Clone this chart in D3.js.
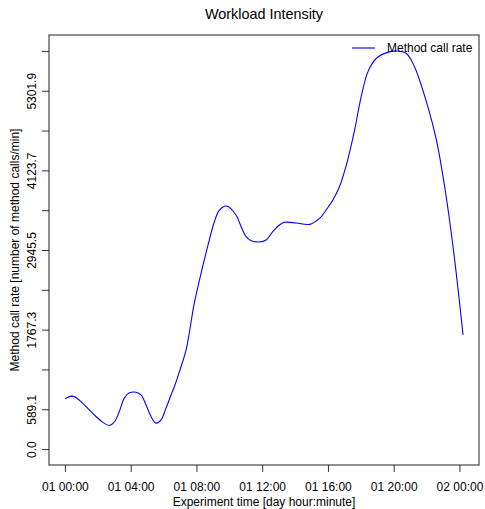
<!DOCTYPE html>
<html>
<head>
<meta charset="utf-8">
<script src="https://cdn.jsdelivr.net/npm/d3@7"></script>
<style>
  body { margin: 0; background: #fff; }
  text { font-family: "Liberation Sans", Arial, sans-serif; fill: #000; }
</style>
</head>
<body>
<svg id="chart"></svg>
<script>
// hours since 01 00:00 and method call rate (calls/min)
var hours = [0, 0.37, 0.67, 1.07, 1.48, 1.89, 2.29, 2.70, 3.0, 3.31, 3.61, 3.92, 4.32, 4.63, 4.93, 5.24, 5.54,
             5.85, 6.15, 6.46, 6.66, 7.0, 7.37, 7.87, 8.28, 8.68, 9.09, 9.4, 9.84, 10.41, 10.72, 11.02,
             11.33, 11.83, 12.24, 12.64, 13.05, 13.35, 14.07, 14.88, 15.49, 15.89, 16.3, 16.7, 17.2,
             17.62, 18.02, 18.43, 18.93, 19.54, 20.15, 20.77, 21.27, 22.08, 22.6, 23.1, 23.61, 24.22];
var callRate = [743, 783, 763, 680, 581, 482, 399, 349, 399, 556, 754, 832, 842, 803, 655, 482, 384,
                433, 606, 803, 925, 1172, 1467, 2158, 2601, 2994, 3364, 3537, 3596, 3463, 3290, 3142,
                3083, 3064, 3093, 3216, 3315, 3355, 3345, 3325, 3414, 3537, 3685, 3881, 4276,
                4720, 5212, 5581, 5779, 5862, 5891, 5853, 5654, 5064, 4572, 3881, 2994, 1689];
var yTicks = [0, 589.1, 1178.2, 1767.3, 2356.4, 2945.5, 3534.6, 4123.7, 4712.8, 5301.9, 5891.0];
var yLabels = ["0.0", "589.1", "", "1767.3", "", "2945.5", "", "4123.7", "", "5301.9", ""];
var xTickHours = [0, 4, 8, 12, 16, 20, 24];

var width = 485, height = 509;
var margin = { left: 49, top: 35, right: 6, bottom: 44 };
var t0 = Date.UTC(2000, 0, 1, 0, 0);
function toDate(h) { return new Date(t0 + h * 3600 * 1000); }

var data = hours.map(function(h, i) { return { t: toDate(h), v: callRate[i] }; });

var svg = d3.select("svg#chart")
    .attr("width", width)
    .attr("height", height);

// R style 4% padding
var xPad = (hours[hours.length - 1] - hours[0]) * 0.04;
var xScale = d3.scaleUtc()
    .domain([toDate(hours[0] - xPad), toDate(hours[hours.length - 1] + xPad)])
    .range([margin.left, width - margin.right]);

var yMax = 5891, yPad = yMax * 0.04;
var yScale = d3.scaleLinear()
    .domain([-yPad, yMax + yPad])
    .range([height - margin.bottom, margin.top]);

// x axis
var xAxis = svg.append("g")
    .attr("class", "axis axis-x")
    .attr("transform", "translate(0," + (height - margin.bottom) + ")")
    .call(d3.axisBottom(xScale)
        .tickValues(xTickHours.map(toDate))
        .tickFormat(d3.utcFormat("%d %H:%M"))
        .tickSizeInner(7)
        .tickSizeOuter(0)
        .tickPadding(10));
xAxis.select(".domain").remove();
xAxis.selectAll("line").attr("stroke", "#333");
xAxis.selectAll("text").style("font-size", "12px").style("font-family", "Liberation Sans, Arial, sans-serif");

// y axis
var yAxis = svg.append("g")
    .attr("class", "axis axis-y")
    .attr("transform", "translate(" + margin.left + ",0)")
    .call(d3.axisLeft(yScale)
        .tickValues(yTicks)
        .tickFormat(function(d, i) { return yLabels[i]; })
        .tickSizeInner(7)
        .tickSizeOuter(0));
yAxis.select(".domain").remove();
yAxis.selectAll("line").attr("stroke", "#333");
yAxis.selectAll("text")
    .style("font-size", "12px")
    .style("font-family", "Liberation Sans, Arial, sans-serif")
    .attr("x", null).attr("dy", null)
    .attr("text-anchor", "middle")
    .attr("transform", "translate(-13,0) rotate(-90)");

// plot box
svg.append("rect")
    .attr("x", margin.left)
    .attr("y", margin.top)
    .attr("width", width - margin.left - margin.right)
    .attr("height", height - margin.top - margin.bottom)
    .attr("fill", "none")
    .attr("stroke", "#222")
    .attr("stroke-width", 1);

// line
var line = d3.line()
    .x(function(d) { return xScale(d.t); })
    .y(function(d) { return yScale(d.v); })
    .curve(d3.curveCatmullRom.alpha(0.5));

svg.append("path")
    .datum(data)
    .attr("fill", "none")
    .attr("stroke", "#0000ff")
    .attr("stroke-width", 1.1)
    .attr("d", line);

// title and axis labels
var plotMid = (margin.left + width - margin.right) / 2;
svg.append("text")
    .attr("x", plotMid)
    .attr("y", 19)
    .style("text-anchor", "middle")
    .style("font-size", "14.4px")
    .text("Workload Intensity");

svg.append("text")
    .attr("x", plotMid)
    .attr("y", 506)
    .style("text-anchor", "middle")
    .style("font-size", "12px")
    .text("Experiment time [day hour:minute]");

svg.append("text")
    .attr("transform", "translate(19," + ((margin.top + height - margin.bottom) / 2) + ") rotate(-90)")
    .style("text-anchor", "middle")
    .style("font-size", "12px")
    .text("Method call rate [number of method calls/min]");

// legend (no box)
var legend = svg.append("g").attr("transform", "translate(352,48)");
legend.append("line")
    .attr("x1", 0).attr("x2", 23)
    .attr("y1", 0).attr("y2", 0)
    .attr("stroke", "#0000ff")
    .attr("stroke-width", 1.1);
legend.append("text")
    .attr("x", 35)
    .attr("y", 4)
    .style("font-size", "12px")
    .text("Method call rate");
</script>
</body>
</html>
